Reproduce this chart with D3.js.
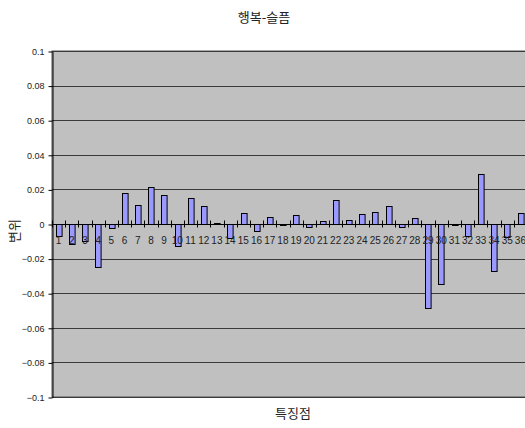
<!DOCTYPE html>
<html>
<head>
<meta charset="utf-8">
<script src="https://cdn.jsdelivr.net/npm/d3@7"></script>
<style>
  html, body { margin: 0; padding: 0; background: #fff; }
  svg { display: block; font-family: "Liberation Sans", Arial, sans-serif; }
</style>
</head>
<body>
<svg id="chart" width="525" height="428"></svg>
<script>
// Feature points 1..36 and their displacement values
const categories = d3.range(1, 37).map(String);
const values = [
  -0.0072, -0.0116, -0.010, -0.0247, -0.0025, 0.018, 0.011, 0.0214, 0.0165, -0.013,
  0.015, 0.0104, 0.0008, -0.0083, 0.0064, -0.0042, 0.004, -0.0008, 0.0052, -0.002,
  0.0018, 0.0137, 0.0022, 0.0056, 0.0067, 0.0102, -0.0015, 0.0037, -0.0484, -0.0345,
  -0.0008, -0.0067, 0.0287, -0.027, -0.0077, 0.0064
];
const yTicks = [0.1, 0.08, 0.06, 0.04, 0.02, 0, -0.02, -0.04, -0.06, -0.08, -0.1];
const yTickLabels = ["0.1", "0.08", "0.06", "0.04", "0.02", "0", "-0.02", "-0.04", "-0.06", "-0.08", "-0.1"];
const title = "행복-슬픔";
const xTitle = "특징점";
const yTitle = "변위";

const svg = d3.select("#chart");
const plot = { left: 52, top: 51, right: 527, bottom: 397 };

const x = d3.scaleBand().domain(categories).range([plot.left, plot.right]).paddingInner(0).paddingOuter(0);
const y = d3.scaleLinear().domain([-0.1, 0.1]).range([plot.bottom, plot.top]);

// plot area background
svg.append("rect")
  .attr("x", plot.left).attr("y", plot.top)
  .attr("width", plot.right - plot.left).attr("height", plot.bottom - plot.top)
  .attr("fill", "#c0c0c0").attr("stroke", "#555").attr("stroke-width", 1);

// horizontal gridlines
svg.append("g").selectAll("line")
  .data(yTicks.filter(v => v !== 0))
  .join("line")
  .attr("x1", plot.left).attr("x2", plot.right)
  .attr("y1", d => Math.round(y(d)) + 0.5).attr("y2", d => Math.round(y(d)) + 0.5)
  .attr("stroke", "#3a3a3a").attr("stroke-width", 1);

// bars
const barW = 5.6;
svg.append("g").selectAll("rect")
  .data(values)
  .join("rect")
  .attr("x", (d, i) => Math.round(x(categories[i]) + x.bandwidth() / 2 - barW / 2) + 0.5)
  .attr("y", d => Math.round(y(Math.max(0, d))) + 0.5)
  .attr("width", barW)
  .attr("height", d => Math.max(1, Math.abs(Math.round(y(d)) - Math.round(y(0)))))
  .attr("fill", "#9999ff")
  .attr("stroke", "#000").attr("stroke-width", 1);

// y axis
const yAxis = d3.axisLeft(y).tickValues(yTicks).tickSize(4).tickSizeOuter(0)
  .tickFormat((d, i) => yTickLabels[i]);
const gy = svg.append("g").attr("transform", `translate(${plot.left + 0.5},0.5)`).call(yAxis);
gy.select(".domain").attr("stroke", "#000");
gy.selectAll(".tick line").attr("stroke", "#000");
gy.selectAll(".tick text").attr("font-size", 9).attr("fill", "#222").attr("dx", -1)
  .text((d, i) => yTickLabels[i].replace("-", "\u2212"));

// x axis along zero line, ticks crossing the line at category boundaries
const zeroY = Math.round(y(0)) + 0.5;
svg.append("line")
  .attr("x1", plot.left).attr("x2", plot.right)
  .attr("y1", zeroY).attr("y2", zeroY)
  .attr("stroke", "#000").attr("stroke-width", 1);
svg.append("g").selectAll("line")
  .data(categories)
  .join("line")
  .attr("x1", d => Math.round(x(d)) + 0.5).attr("x2", d => Math.round(x(d)) + 0.5)
  .attr("y1", zeroY - 4).attr("y2", zeroY + 3)
  .attr("stroke", "#000");

// category labels just under the zero line
svg.append("g").selectAll("text")
  .data(categories)
  .join("text")
  .attr("x", d => x(d) + x.bandwidth() / 2)
  .attr("y", zeroY + 19)
  .attr("text-anchor", "middle")
  .attr("font-size", 10)
  .attr("fill", "#222")
  .text(d => d);

// titles
svg.append("text").attr("x", 264).attr("y", 22).attr("text-anchor", "middle")
  .attr("font-size", 13).attr("fill", "#222")
  .attr("font-family", "'Noto Sans CJK KR', sans-serif").text(title);
svg.append("text").attr("x", 293).attr("y", 418).attr("text-anchor", "middle")
  .attr("font-size", 13).attr("fill", "#222")
  .attr("font-family", "'Noto Sans CJK KR', sans-serif").text(xTitle);
svg.append("text").attr("transform", "translate(19,231) rotate(-90)").attr("text-anchor", "middle")
  .attr("font-size", 13).attr("fill", "#222")
  .attr("font-family", "'Noto Sans CJK KR', sans-serif").text(yTitle);
</script>
</body>
</html>
